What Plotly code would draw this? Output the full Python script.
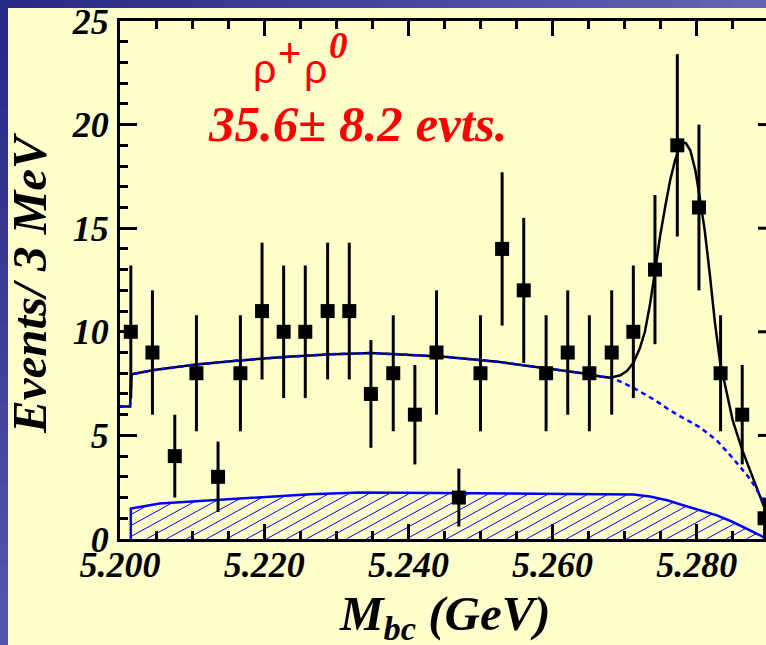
import numpy as np
import plotly.graph_objects as go

# ---- data -------------------------------------------------------------
# Mbc bin centres (GeV), event counts and their uncertainties
mbc = [5.2015, 5.2045, 5.2076, 5.2106, 5.2136, 5.2167, 5.2197, 5.2227, 5.2257, 5.2288,
       5.2318, 5.2348, 5.2379, 5.2409, 5.2439, 5.2470, 5.2500, 5.2530, 5.2560, 5.2591,
       5.2621, 5.2651, 5.2682, 5.2712, 5.2742, 5.2773, 5.2803, 5.2833, 5.2863, 5.2894]
events = [10, 9, 4, 8, 3, 8, 11, 10, 10, 11, 11, 7, 8, 6, 9, 2, 8, 14, 12, 8,
          9, 8, 9, 10, 13, 19, 16, 8, 6, 1]
errors = [3.2, 3.0, 2.0, 2.8, 1.7, 2.8, 3.3, 3.2, 3.2, 3.3, 3.3, 2.6, 2.8, 2.4, 3.0,
          1.4, 2.8, 3.7, 3.5, 2.8, 3.0, 2.8, 3.0, 3.2, 3.6, 4.4, 4.0, 2.8, 2.4, 1.0]

# total fit curve
fit_x = [5.2000, 5.2014, 5.2016, 5.2045, 5.2105, 5.2166, 5.2227, 5.2288, 5.2348, 5.2379,
         5.2450, 5.2527, 5.2560, 5.2591, 5.2621, 5.2652, 5.2666, 5.2680, 5.2694, 5.2703,
         5.2712, 5.2721, 5.2728, 5.2735, 5.2742, 5.2749, 5.2756, 5.2763, 5.2770, 5.2777,
         5.2781, 5.2785, 5.2791, 5.2798, 5.2804, 5.2811, 5.2818, 5.2825, 5.2832, 5.2842,
         5.2850, 5.2863, 5.2874, 5.2883, 5.2892, 5.2895, 5.2896]
fit_y = [6.4, 6.4, 7.95, 8.14, 8.42, 8.62, 8.78, 8.91, 8.98, 8.92,
         8.8, 8.54, 8.38, 8.22, 8.11, 7.95, 7.84, 7.78, 7.9, 8.1,
         8.5, 9.2, 10.0, 11.3, 12.9, 14.6, 16.0, 17.3, 18.3, 19.0,
         19.15, 19.1, 18.76, 17.8, 16.5, 14.9, 12.8, 10.5, 8.6, 7.0,
         5.7, 4.3, 3.3, 2.5, 1.7, 1.4, 0.0]

# continuum background component
bkg_x = [5.2000, 5.2014, 5.2016, 5.2045, 5.2105, 5.2166, 5.2227, 5.2288, 5.2348, 5.2379,
         5.2450, 5.2527, 5.2560, 5.2591, 5.2621, 5.2652, 5.2666, 5.2682, 5.2712, 5.2742,
         5.2759, 5.2773, 5.2804, 5.2828, 5.2850, 5.2874, 5.2888, 5.2895, 5.2896]
bkg_y = [6.4, 6.4, 7.95, 8.14, 8.42, 8.62, 8.78, 8.91, 8.98, 8.92,
         8.8, 8.54, 8.38, 8.22, 8.11, 7.95, 7.84, 7.79, 7.3, 6.7,
         6.3, 6.0, 5.4, 4.75, 3.9, 2.9, 2.1, 1.6, 0.0]

# B-Bbar background component (hatched)
bb_x = [5.2015, 5.2015, 5.2055, 5.2125, 5.2194, 5.2264, 5.2333, 5.2458, 5.2596, 5.2666,
        5.2712, 5.2735, 5.2759, 5.2781, 5.2804, 5.2828, 5.2850, 5.2874, 5.2888, 5.2895]
bb_y = [0.0, 1.47, 1.71, 1.87, 2.03, 2.16, 2.24, 2.22, 2.20, 2.19,
        2.15, 2.05, 1.87, 1.63, 1.39, 1.14, 0.82, 0.42, 0.18, 0.02]

X_MIN, X_MAX = 5.200, 5.2896
Y_MIN, Y_MAX = 0, 25

# ---- page geometry ----------------------------------------------------
W, H = 766, 645
ML, MR, MT, MB = 120, 0, 21, 106
PW, PH = W - ML - MR, H - MT - MB
YELLOW = "#FFFFCC"
BLUE = "#0000FF"
RED = "#FF0000"
SERIF = "Liberation Serif"
SANS = "Liberation Sans"


def px(x):
    return (x - ML) / PW


def py(y):
    return (MT + PH - y) / PH


fig = go.Figure()

# hatched region outline
fig.add_trace(go.Scatter(x=bb_x, y=bb_y, mode="lines",
                         line=dict(color=BLUE, width=2.5), hoverinfo="skip"))

# hatch lines clipped to the area under the B-Bbar curve
gev_px = PW / (X_MAX - X_MIN)
evt_px = PH / (Y_MAX - Y_MIN)
slope = 0.55 * gev_px / evt_px          # events per GeV along a hatch line
step = 20 / gev_px                       # horizontal spacing between lines
xl, xr = bb_x[1], bb_x[-1]
grid = np.linspace(xl, xr, 4000)
top = np.interp(grid, bb_x[1:], bb_y[1:])
hx, hy = [], []
x0 = xl - max(bb_y) / slope
while x0 < xr:
    line = slope * (grid - x0)
    ok = (grid >= x0) & (line <= top)
    if ok.any():
        idx = np.where(ok)[0]
        i0 = idx[0]
        # stop at the first crossing with the curve
        above = np.where((line > top) & (grid > grid[i0]))[0]
        i1 = above[0] if above.size else len(grid) - 1
        hx += [grid[i0], grid[i1], None]
        hy += [max(line[i0], 0), min(line[i1], top[i1]), None]
    x0 += step
fig.add_trace(go.Scatter(x=hx, y=hy, mode="lines",
                         line=dict(color=BLUE, width=1), hoverinfo="skip"))

# total fit
fig.add_trace(go.Scatter(x=fit_x, y=fit_y, mode="lines",
                         line=dict(color="black", width=2.5), hoverinfo="skip"))
# continuum background
fig.add_trace(go.Scatter(x=bkg_x, y=bkg_y, mode="lines",
                         line=dict(color=BLUE, width=2.5, dash="5px,4px"),
                         hoverinfo="skip"))

# data points
fig.add_trace(go.Scatter(
    x=mbc, y=events, mode="markers",
    marker=dict(symbol="square", size=14, color="black", line=dict(width=0)),
    error_y=dict(type="data", array=errors, visible=True, width=0,
                 thickness=3, color="black"),
))

# ---- slide frame strips (top and left) ------------------------------
shapes = []
n = 24
for i in range(n):
    t = i / (n - 1)
    c = tuple(int(a + (b - a) * t) for a, b in zip((40, 40, 135), (100, 100, 180)))
    shapes.append(dict(type="rect", xref="paper", yref="paper",
                       x0=px(i * W / n), x1=px((i + 1) * W / n + 1),
                       y0=py(8), y1=py(0), line=dict(width=0),
                       fillcolor="rgb(%d,%d,%d)" % c, layer="above"))
for i in range(n):
    t = i / (n - 1)
    c = tuple(int(a + (b - a) * t) for a, b in zip((40, 40, 135), (85, 85, 170)))
    shapes.append(dict(type="rect", xref="paper", yref="paper",
                       x0=px(0), x1=px(8),
                       y0=py((i + 1) * H / n + 1), y1=py(i * H / n),
                       line=dict(width=0),
                       fillcolor="rgb(%d,%d,%d)" % c, layer="above"))

# ticks of the right-hand frame edge
for v in [5, 10, 15, 20]:
    shapes.append(dict(type="line", xref="paper", yref="y",
                       x0=px(758), x1=1.0, y0=v, y1=v,
                       line=dict(color="black", width=3)))

tickfont = dict(family=SERIF, size=36, color="black", weight="bold", style="italic")

fig.update_layout(
    width=W, height=H,
    margin=dict(l=ML, r=MR, t=MT, b=MB, autoexpand=False),
    paper_bgcolor=YELLOW, plot_bgcolor=YELLOW,
    showlegend=False,
    shapes=shapes,
    xaxis=dict(range=[X_MIN, X_MAX], tick0=5.2, dtick=0.02, tickformat=".3f",
               ticks="inside", ticklen=15, tickwidth=3, tickcolor="black",
               showline=True, linewidth=3, linecolor="black", mirror="ticks",
               showgrid=False, zeroline=False, tickfont=tickfont,
               ticklabelstandoff=-8, automargin=False,
               minor=dict(tick0=5.2, dtick=0.005, ticks="inside", ticklen=8,
                          tickwidth=2.5, tickcolor="black", showgrid=False)),
    yaxis=dict(range=[Y_MIN, Y_MAX], tick0=0, dtick=5,
               ticks="inside", ticklen=17, tickwidth=3, tickcolor="black",
               showline=True, linewidth=3, linecolor="black", mirror=False,
               showgrid=False, zeroline=False, tickfont=tickfont,
               ticklabelstandoff=1, automargin=False,
               minor=dict(tick0=0, dtick=1, ticks="inside", ticklen=8,
                          tickwidth=2.5, tickcolor="black", showgrid=False)),
)

title_font = dict(family=SERIF, size=49, color="black", weight="bold", style="italic")
ann = [
    dict(text="Events/ 3 MeV", textangle=-90, x=px(29), y=py(283),
         font=title_font),
    dict(text="M<sub>bc</sub> (GeV)", x=px(445), y=py(616), font=title_font),
    dict(text="ρ", x=px(264), y=py(69), font=dict(family=SANS, size=41, color=RED)),
    dict(text="+", x=px(289), y=py(53), font=dict(family=SANS, size=40, color=RED)),
    dict(text="ρ", x=px(315), y=py(69), font=dict(family=SANS, size=41, color=RED)),
    dict(text="0", x=px(338), y=py(45),
         font=dict(family=SERIF, size=37, color=RED, weight="bold", style="italic")),
    dict(text="35.6± 8.2 evts.", x=px(358), y=py(124),
         font=dict(family=SERIF, size=51, color=RED, weight="bold", style="italic")),
]
for a in ann:
    a.update(xref="paper", yref="paper", showarrow=False,
             xanchor="center", yanchor="middle")
fig.update_layout(annotations=ann)

fig.write_html("out.html")
